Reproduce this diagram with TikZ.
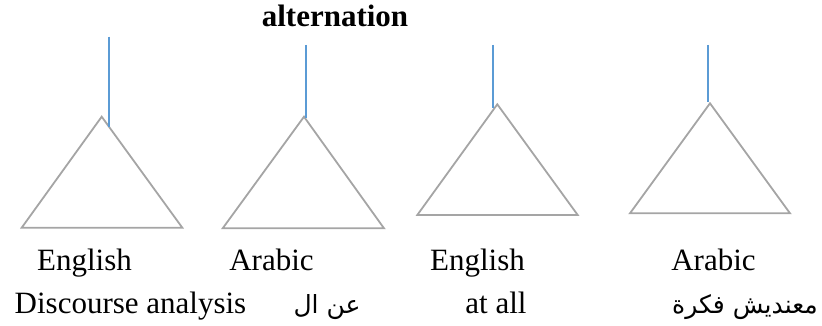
\documentclass[tikz,border=0pt]{standalone}
\usepackage{fontspec}
\setmainfont{Liberation Serif}
\newfontfamily\arabicfont[Script=Arabic]{DejaVu Sans}
\TeXXeTstate=1
\definecolor{trigray}{HTML}{A5A5A5}
\definecolor{stemblue}{HTML}{5B9BD5}
\begin{document}
\begin{tikzpicture}[x=1pt,y=-1pt,
  tri/.style={draw=trigray,line width=1.8pt,line join=miter},
  stem/.style={draw=stemblue,line width=1.3pt},
  lbl/.style={anchor=base,inner sep=0pt,font=\fontsize{31}{37}\selectfont},
  arlbl/.style={anchor=base,inner sep=0pt,font=\arabicfont\fontsize{25}{30}\selectfont},
  title/.style={anchor=base,inner sep=0pt,font=\fontsize{31}{37}\selectfont\bfseries}]
\useasboundingbox (0,0) rectangle (822,326);
% title
\node[title] (alt) at (335,27) {alternation};
% triangles
\coordinate (a1) at (101.7,116.7); \coordinate (l1) at (21.7,227.7); \coordinate (r1) at (182.3,227.7);
\coordinate (a2) at (304,116.7); \coordinate (l2) at (222.7,228.3); \coordinate (r2) at (384,228.3);
\coordinate (a3) at (497.3,104.3); \coordinate (l3) at (417.3,215); \coordinate (r3) at (577.7,215);
\coordinate (a4) at (710,103.3); \coordinate (l4) at (630,213.3); \coordinate (r4) at (790,213.3);
\draw[tri] (a1) -- (r1) -- (l1) -- cycle;
\draw[tri] (a2) -- (r2) -- (l2) -- cycle;
\draw[tri] (a3) -- (r3) -- (l3) -- cycle;
\draw[tri] (a4) -- (r4) -- (l4) -- cycle;
% stems
\coordinate (s1t) at (109,36.7); \coordinate (s1b) at (109,126.7);
\coordinate (s2t) at (306,45); \coordinate (s2b) at (306,118);
\coordinate (s3t) at (493,45); \coordinate (s3b) at (493,108);
\coordinate (s4t) at (708,45); \coordinate (s4b) at (708,101.7);
\draw[stem] (s1t) -- (s1b);
\draw[stem] (s2t) -- (s2b);
\draw[stem] (s3t) -- (s3b);
\draw[stem] (s4t) -- (s4b);
% labels row 1
\node[lbl] (e1) at (84.5,270) {English};
\node[lbl] (ar1) at (271.5,270) {Arabic};
\node[lbl] (e2) at (477.5,270) {English};
\node[lbl] (ar2) at (713.5,270) {Arabic};
% labels row 2
\node[lbl] (w1) at (130.5,313) {Discourse analysis};
\node[arlbl] (w2) at (327,313) {\beginR عن ال\endR};
\node[lbl] (w3) at (496,313) {at all};
\node[arlbl] (w4) at (745,313) {\beginR معنديش فكرة\endR};
\end{tikzpicture}
\end{document}
